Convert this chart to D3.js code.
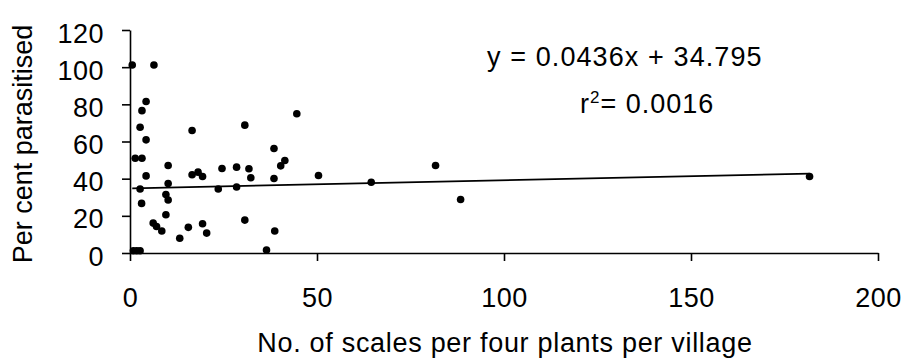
<!DOCTYPE html>
<html lang="en">
  <head>
    <meta charset="UTF-8" />
    <title>Per cent parasitised vs scales</title>
    <script src="https://cdnjs.cloudflare.com/ajax/libs/d3/7.8.5/d3.min.js"></script>
    <style>
      body,
      html {
        margin: 0;
        padding: 0;
        background: #fff;
      }
      text {
        font-family: "Liberation Sans", Arial, Helvetica, sans-serif;
        fill: #000;
      }
    </style>
  </head>
  <body>
    <svg id="chart" width="905" height="363"></svg>
    <script type="text/javascript">
      // scales per four plants per village (x) and per cent parasitised (y)
      const scalesX = [
        0.6, 6.4, 4.3, 3.2, 2.7, 4.3, 1.4, 3.2, 4.3, 2.7, 3.1, 0.9, 1.8, 2.7,
        10.2, 10.2, 9.6, 10.2, 9.6, 6.2, 7.1, 8.5, 13.3, 15.6, 16.6, 16.6,
        18.2, 19.4, 19.4, 20.5, 23.6, 24.6, 28.5, 28.5, 30.7, 31.8, 32.3,
        30.7, 36.5, 38.5, 38.5, 38.7, 40.3, 41.4, 44.6, 50.4, 64.5, 81.7,
        88.4, 181.7,
      ];
      const parasitisedY = [
        101.2, 101.2, 81.5, 76.6, 67.7, 60.9, 51, 51, 41.5, 34.4, 26.7, 1.2,
        1.2, 1.2, 47.1, 37.4, 31.5, 28.5, 20.6, 16.1, 14.3, 11.8, 7.9, 13.8,
        65.9, 42.1, 43.5, 41.2, 15.7, 10.7, 34.4, 45.5, 46.2, 35.5, 68.8,
        45.3, 40.5, 17.7, 1.6, 56.2, 40.1, 11.8, 46.9, 49.8, 74.9, 41.7, 38.1,
        47.1, 28.8, 41.2,
      ];
      const xTicks = [0, 50, 100, 150, 200];
      const yTicks = [0, 20, 40, 60, 80, 100, 120];
      const slope = 0.0436;
      const intercept = 34.795;
      const equationText = "y = 0.0436x + 34.795";
      const rSquared = "0.0016";

      const svg = d3.select("#chart");
      const x = d3.scaleLinear().domain([0, 200]).range([130, 878]);
      const y = d3.scaleLinear().domain([0, 120]).range([253, 30]);

      // Axes
      const xAxis = svg
        .append("g")
        .attr("transform", `translate(0,${y(0)})`)
        .call(
          d3.axisBottom(x).tickValues(xTicks).tickSize(8).tickSizeOuter(0).tickPadding(27)
        );
      const yAxis = svg
        .append("g")
        .attr("transform", `translate(${x(0)},0)`)
        .call(
          d3.axisLeft(y).tickValues(yTicks).tickSize(8).tickSizeOuter(0).tickPadding(18)
        );

      [xAxis, yAxis].forEach((a) => {
        a.select(".domain").attr("stroke", "#000").attr("stroke-width", 1.6);
        a.selectAll(".tick line").attr("stroke", "#000").attr("stroke-width", 1.6);
        a.selectAll(".tick text")
          .attr("font-family", "Liberation Sans, Arial, sans-serif")
          .attr("font-size", 27)
          .attr("letter-spacing", 0.5)
          .attr("fill", "#000");
      });
      yAxis.selectAll(".tick text").attr("dy", "0.45em");

      // Trend line
      const xExt = d3.extent(scalesX);
      svg
        .append("line")
        .attr("x1", x(xExt[0]))
        .attr("y1", y(slope * xExt[0] + intercept))
        .attr("x2", x(xExt[1]))
        .attr("y2", y(slope * xExt[1] + intercept))
        .attr("stroke", "#000")
        .attr("stroke-width", 1.7);

      // Points
      svg
        .append("g")
        .selectAll("circle")
        .data(d3.zip(scalesX, parasitisedY))
        .join("circle")
        .attr("cx", (d) => x(d[0]))
        .attr("cy", (d) => y(d[1]))
        .attr("r", 3.8)
        .attr("fill", "#000");

      // Axis titles
      svg
        .append("text")
        .attr("x", 505)
        .attr("y", 352)
        .attr("text-anchor", "middle")
        .attr("font-size", 27)
        .attr("letter-spacing", 0.7)
        .text("No. of scales per four plants per village");

      svg
        .append("text")
        .attr("transform", "translate(32,144) rotate(-90)")
        .attr("text-anchor", "middle")
        .attr("font-size", 27)
        .text("Per cent parasitised");

      // Equation
      svg
        .append("text")
        .attr("x", 487)
        .attr("y", 66)
        .attr("font-size", 27)
        .attr("letter-spacing", 1.1)
        .text(equationText);

      const r2 = svg
        .append("text")
        .attr("x", 580)
        .attr("y", 113)
        .attr("font-size", 27)
        .attr("letter-spacing", 1);
      r2.append("tspan").text("r");
      r2.append("tspan").attr("font-size", 17).attr("dy", -10).text("2");
      r2.append("tspan").attr("dy", 10).text("= " + rSquared);
    </script>
  </body>
</html>
